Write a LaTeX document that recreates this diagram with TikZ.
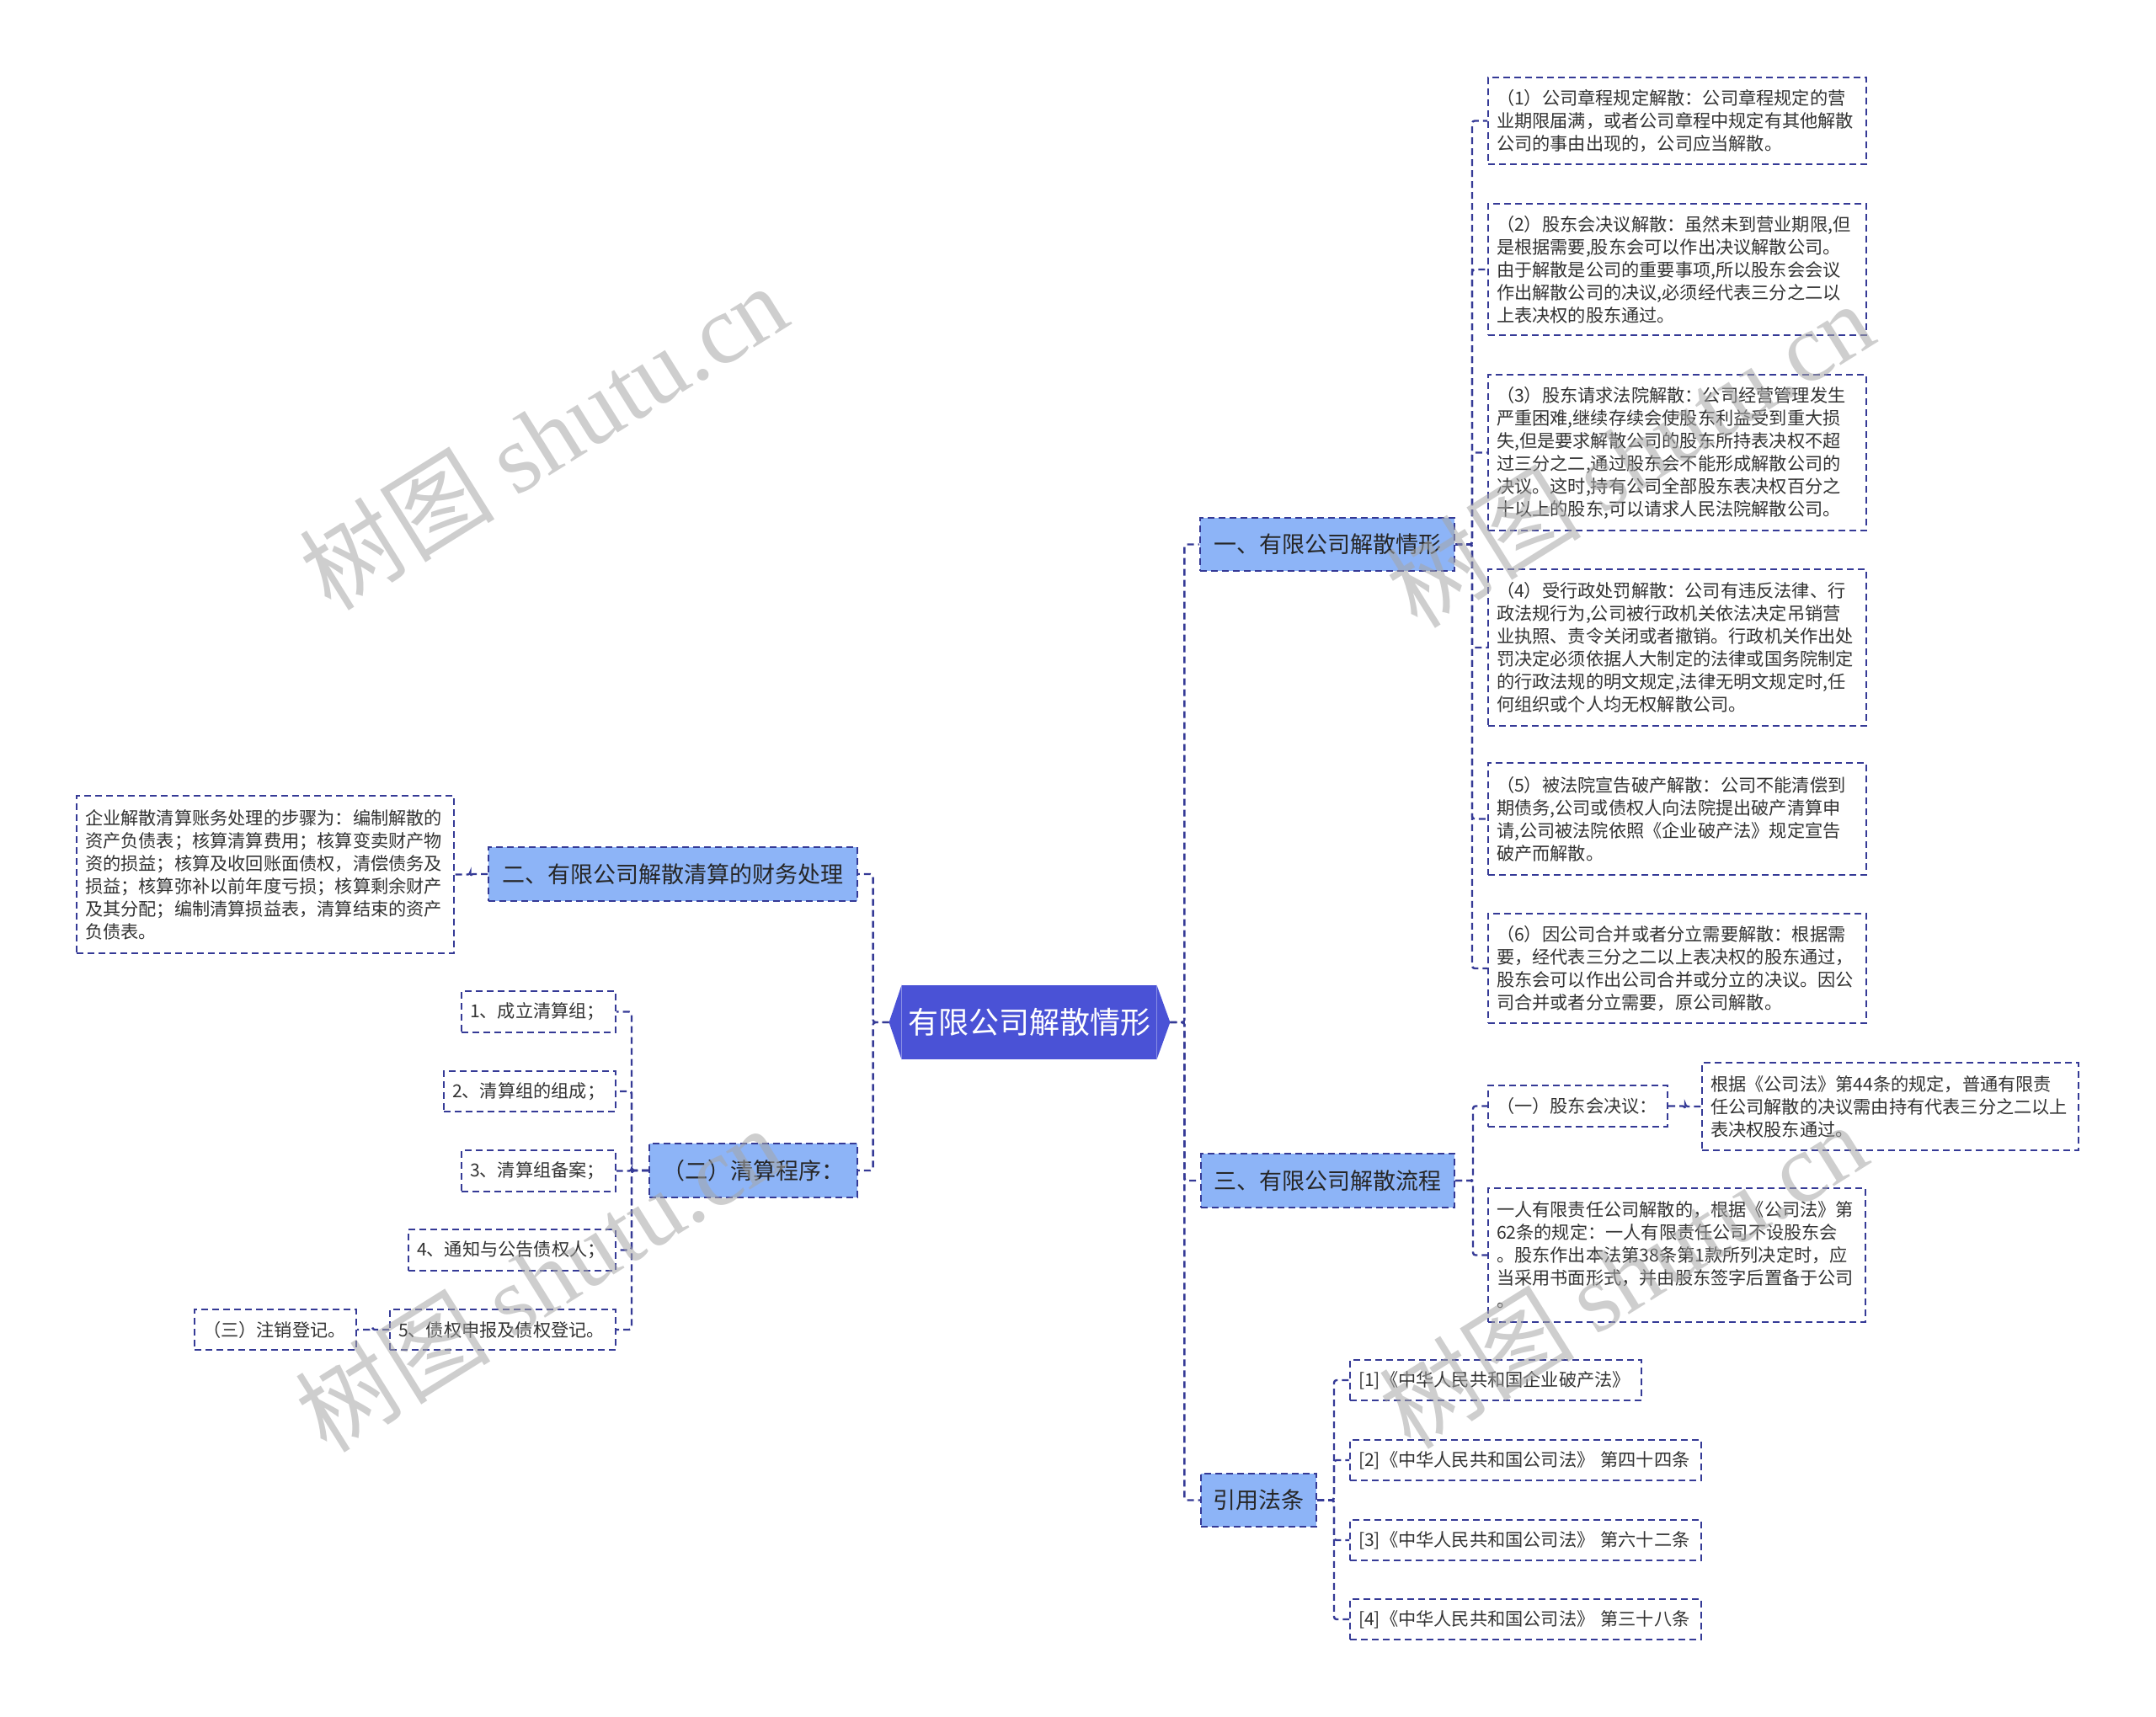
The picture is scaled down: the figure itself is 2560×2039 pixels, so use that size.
\documentclass[tikz,border=0pt]{standalone}
\usepackage{fontspec}
\setmainfont{Noto Sans CJK SC}
\newfontfamily\wmfont{Liberation Serif}
\usetikzlibrary{calc}
\definecolor{navy}{HTML}{353A96}
\definecolor{lblue}{HTML}{8DB4F7}
\definecolor{rootblue}{HTML}{4A52D6}
\definecolor{txt}{HTML}{333333}
\definecolor{lvtxt}{HTML}{262626}
\tikzset{
  dashes/.style={dash pattern=on 4pt off 2.5pt},
  dbox/.style={draw=navy, line width=1pt, dashes, fill=white, text=txt, align=left,
    inner xsep=5pt, inner ysep=0pt, font=\fontsize{10.6pt}{13.5pt}\selectfont},
  lbox/.style={draw=navy, line width=1pt, dashes, fill=lblue, text=lvtxt, align=center,
    inner sep=0pt, font=\fontsize{13.5pt}{16pt}\selectfont},
  rootbox/.style={fill=rootblue, text=white, inner sep=0pt,
    font=\fontsize{18pt}{20pt}\selectfont},
  conn/.style={draw=navy, line width=1.2pt, dashes, rounded corners=1.5pt},
  wm/.style={text=black!35, text opacity=0.55, inner sep=0pt,
    font=\fontsize{58pt}{60pt}\selectfont},
}
\begin{document}
\begin{tikzpicture}[x=0.5pt,y=-0.5pt]
\fill[white] (0,0) rectangle (2560,2039);
\useasboundingbox (0,0) rectangle (2560,2039);

% root
\node[rootbox, minimum width=151pt, minimum height=44pt] (root) at (1222,1214) {有限公司解散情形};
\coordinate (rootL) at ($(root.west)+(-15,0)$);
\coordinate (rootR) at ($(root.east)+(16,0)$);
\fill[rootblue] (root.north east) -- (rootR) -- (root.south east) -- cycle;
\fill[rootblue] (root.north west) -- (rootL) -- (root.south west) -- cycle;

% level 1
\node[lbox, minimum width=151pt, minimum height=31.5pt] (A) at (1576,646.5) {一、有限公司解散情形};
\node[lbox, minimum width=150.5pt, minimum height=32pt] (B) at (1576.5,1402) {三、有限公司解散流程};
\node[lbox, minimum width=68.5pt, minimum height=31.5pt] (C) at (1494.5,1781.5) {引用法条};
\node[lbox, minimum width=219pt, minimum height=32pt] (D) at (799,1038) {二、有限公司解散清算的财务处理};
\node[lbox, minimum width=123.5pt, minimum height=32pt] (E) at (894.5,1390) {（二）清算程序：};

% children of A
\node[dbox, minimum width=224.5pt, text width=214.5pt, minimum height=51.5pt] (n1) at (1991.5,143.5)
 {（1）公司章程规定解散：公司章程规定的营\\业期限届满，或者公司章程中规定有其他解散\\公司的事由出现的，公司应当解散。};
\node[dbox, minimum width=224.5pt, text width=214.5pt, minimum height=78pt] (n2) at (1991.5,320)
 {（2）股东会决议解散：虽然未到营业期限,但\\是根据需要,股东会可以作出决议解散公司。\\由于解散是公司的重要事项,所以股东会会议\\作出解散公司的决议,必须经代表三分之二以\\上表决权的股东通过。};
\node[dbox, minimum width=224.5pt, text width=214.5pt, minimum height=92.5pt] (n3) at (1991.5,537.5)
 {（3）股东请求法院解散：公司经营管理发生\\严重困难,继续存续会使股东利益受到重大损\\失,但是要求解散公司的股东所持表决权不超\\过三分之二,通过股东会不能形成解散公司的\\决议。这时,持有公司全部股东表决权百分之\\十以上的股东,可以请求人民法院解散公司。};
\node[dbox, minimum width=224.5pt, text width=214.5pt, minimum height=93pt] (n4) at (1991.5,769)
 {（4）受行政处罚解散：公司有违反法律、行\\政法规行为,公司被行政机关依法决定吊销营\\业执照、责令关闭或者撤销。行政机关作出处\\罚决定必须依据人大制定的法律或国务院制定\\的行政法规的明文规定,法律无明文规定时,任\\何组织或个人均无权解散公司。};
\node[dbox, minimum width=224.5pt, text width=214.5pt, minimum height=66.5pt] (n5) at (1991.5,972.5)
 {（5）被法院宣告破产解散：公司不能清偿到\\期债务,公司或债权人向法院提出破产清算申\\请,公司被法院依照《企业破产法》规定宣告\\破产而解散。};
\node[dbox, minimum width=224.5pt, text width=214.5pt, minimum height=65pt] (n6) at (1991.5,1150)
 {（6）因公司合并或者分立需要解散：根据需\\要，经代表三分之二以上表决权的股东通过，\\股东会可以作出公司合并或分立的决议。因公\\司合并或者分立需要，原公司解散。};

% children of B
\node[dbox, minimum width=106.5pt, text width=96.5pt, minimum height=24.5pt] (s1) at (1873.5,1313.5) {（一）股东会决议：};
\node[dbox, minimum width=223.5pt, text width=213.5pt, minimum height=52pt] (s1a) at (2244.5,1314)
 {根据《公司法》第44条的规定，普通有限责\\任公司解散的决议需由持有代表三分之二以上\\表决权股东通过。};
\node[dbox, minimum width=224pt, text width=214pt, minimum height=79.5pt] (s2) at (1991,1490.5)
 {一人有限责任公司解散的，根据《公司法》第\\62条的规定：一人有限责任公司不设股东会\\。股东作出本法第38条第1款所列决定时，应\\当采用书面形式，并由股东签字后置备于公司\\。};

% children of C
\node[dbox, minimum width=173pt, text width=163pt, minimum height=24pt] (r1) at (1776,1639) {[1]《中华人民共和国企业破产法》};
\node[dbox, minimum width=208.5pt, text width=198.5pt, minimum height=24pt] (r2) at (1811.5,1734) {[2]《中华人民共和国公司法》~第四十四条};
\node[dbox, minimum width=208.5pt, text width=198.5pt, minimum height=24pt] (r3) at (1811.5,1829) {[3]《中华人民共和国公司法》~第六十二条};
\node[dbox, minimum width=208.5pt, text width=198.5pt, minimum height=24pt] (r4) at (1811.5,1923) {[4]《中华人民共和国公司法》~第三十八条};

% child of D
\node[dbox, minimum width=224pt, text width=214pt, minimum height=93.5pt] (L) at (315,1038.5)
 {企业解散清算账务处理的步骤为：编制解散的\\资产负债表；核算清算费用；核算变卖财产物\\资的损益；核算及收回账面债权，清偿债务及\\损益；核算弥补以前年度亏损；核算剩余财产\\及其分配；编制清算损益表，清算结束的资产\\负债表。};

% children of E
\node[dbox, minimum width=91.5pt, text width=81.5pt, minimum height=24.5pt] (c1) at (639.5,1201.5) {1、成立清算组；};
\node[dbox, minimum width=102pt, text width=92pt, minimum height=24pt] (c2) at (629,1296) {2、清算组的组成；};
\node[dbox, minimum width=91.5pt, text width=81.5pt, minimum height=24.5pt] (c3) at (639.5,1390.5) {3、清算组备案；};
\node[dbox, minimum width=123pt, text width=113pt, minimum height=24.5pt] (c4) at (608,1484.5) {4、通知与公告债权人；};
\node[dbox, minimum width=134pt, text width=124pt, minimum height=24pt] (c5) at (597,1579) {5、债权申报及债权登记。};
\node[dbox, minimum width=96pt, text width=86pt, minimum height=24pt] (c6) at (327,1579) {（三）注销登记。};

% connectors
\foreach \t in {A,B,C} \draw[conn] (rootR) -- ++(17,0) |- (\t.west);
\foreach \t in {D,E} \draw[conn] (rootL) -- ++(-19,0) |- (\t.east);
\foreach \t in {n1,n2,n3,n4,n5,n6} \draw[conn] (A.east) -- ++(20,0) |- (\t.west);
\foreach \t in {s1,s2} \draw[conn] (B.east) -- ++(21,0) |- (\t.west);
\draw[conn] (s1.east) -- ++(20,0) |- (s1a.west);
\foreach \t in {r1,r2,r3,r4} \draw[conn] (C.east) -- ++(20,0) |- (\t.west);
\draw[conn] (D.west) -- ++(-20.5,0) |- (L.east);
\foreach \t in {c1,c2,c3,c4,c5} \draw[conn] (E.west) -- ++(-20,0) |- (\t.east);
\draw[conn] (c5.west) -- ++(-20,0) |- (c6.east);

% watermarks
\node[wm, rotate=32] (w1) at (645,518) {树图 {\wmfont shutu.cn}};
\node[wm, rotate=32] (w2) at (1935,539) {树图 {\wmfont shutu.cn}};
\node[wm, rotate=32] (w3) at (640,1518) {树图 {\wmfont shutu.cn}};
\node[wm, rotate=32] (w4) at (1927,1514) {树图 {\wmfont shutu.cn}};
\end{tikzpicture}
\end{document}
